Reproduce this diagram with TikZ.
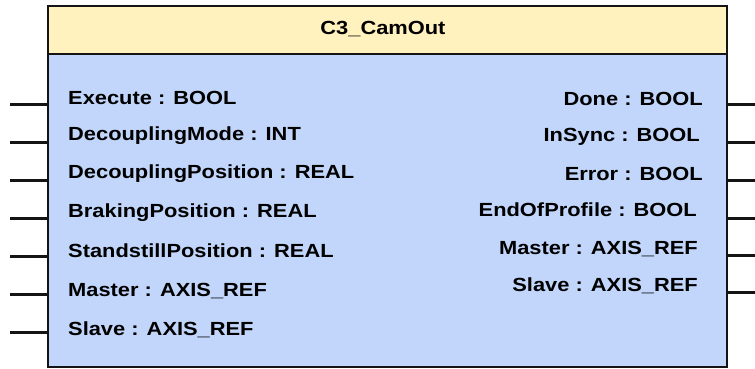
\documentclass[tikz,border=0pt]{standalone}
\usepackage{fontspec}
\setmainfont{Liberation Sans}[FakeStretch=1.15]
\definecolor{headfill}{RGB}{255,242,190}
\definecolor{bodyfill}{RGB}{193,214,250}
\definecolor{edge}{RGB}{20,20,20}
\begin{document}
\begin{tikzpicture}[x=1pt,y=-1pt,
  lab/.style={inner sep=0pt,font=\fontsize{19}{22}\selectfont\bfseries,text=black},
  inlab/.style={lab,anchor=base west},
  outlab/.style={lab,anchor=base east},
  pin/.style={draw=edge,line width=3pt},
  boxline/.style={draw=edge,line width=2.8pt}]
\useasboundingbox (0,0) rectangle (755,369);
% body and header
\path[fill=bodyfill] (48,54) rectangle (727,367);
\path[fill=headfill] (48,6) rectangle (727,54);
\draw[boxline] (48,6) rectangle (727,367);
\draw[boxline] (48,54) -- (727,54);
\node[lab,anchor=base] (title) at (383,35) {C3\_CamOut};
% inputs
\node[inlab] (i1) at (68,104) {Execute : BOOL};
\node[inlab] (i2) at (68,140.5) {DecouplingMode : INT};
\node[inlab] (i3) at (68,178) {DecouplingPosition : REAL};
\node[inlab] (i4) at (68,217) {BrakingPosition : REAL};
\node[inlab] (i5) at (68,257) {StandstillPosition : REAL};
\node[inlab] (i6) at (68,296.5) {Master : AXIS\_REF};
\node[inlab] (i7) at (68,335) {Slave : AXIS\_REF};
% outputs
\node[outlab] (o1) at (703,105.5) {Done : BOOL};
\node[outlab] (o2) at (700,141.5) {InSync : BOOL};
\node[outlab] (o3) at (703,180) {Error : BOOL};
\node[outlab] (o4) at (697,216.5) {EndOfProfile : BOOL};
\node[outlab] (o5) at (698,254) {Master : AXIS\_REF};
\node[outlab] (o6) at (698,291.5) {Slave : AXIS\_REF};
% input pins
\foreach \n/\y in {1/104,2/142,3/180,4/218,5/256,6/294,7/332}{
  \coordinate (pa\n) at (10,\y);
  \coordinate (pb\n) at (48,\y);
  \draw[pin] (pa\n) -- (pb\n);
}
% output pins
\foreach \n/\y in {1/104,2/142,3/180,4/218,5/255,6/292}{
  \coordinate (qa\n) at (727,\y);
  \coordinate (qb\n) at (755,\y);
  \draw[pin] (qa\n) -- (qb\n);
}
\end{tikzpicture}
\end{document}
